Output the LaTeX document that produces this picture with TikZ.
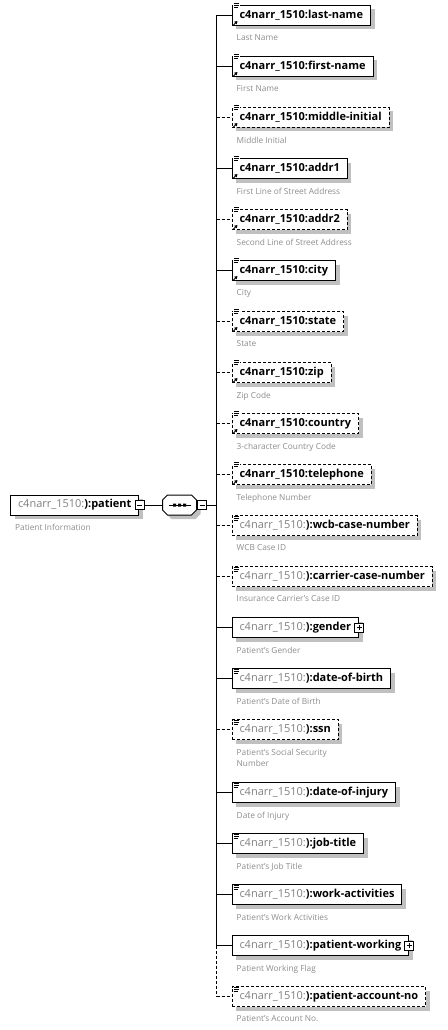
\documentclass[tikz,border=0pt]{standalone}
\usepackage{fontspec}
\setmainfont{Open Sans}
\usetikzlibrary{calc,shadows,arrows.meta}
\definecolor{prefixgray}{RGB}{128,128,128}
\definecolor{descgray}{RGB}{140,140,140}
\definecolor{shadowgray}{RGB}{192,192,192}
\tikzset{
  req/.style={draw, line width=1pt, fill=white, anchor=west,
    minimum height=20pt, inner xsep=7.5pt, inner ysep=0pt,
    font=\fontsize{11}{13}\selectfont\bfseries,
    general shadow={fill=shadowgray, shadow xshift=4pt, shadow yshift=-4pt}},
  opt/.style={req, dash pattern=on 3pt off 2pt},
  req link/.style={line width=1pt},
  opt link/.style={line width=1pt, dash pattern=on 3pt off 2pt},
  desc/.style={anchor=north west, inner sep=0pt, align=left, text=descgray,
    font=\fontsize{8.3}{11.5}\selectfont},
  togglebox/.style={draw, fill=white, line width=0.8pt, minimum size=9pt, inner sep=0pt},
  minusbox/.style={togglebox, path picture={
    \draw[line width=0.8pt] ([xshift=2pt]path picture bounding box.west) -- ([xshift=-2pt]path picture bounding box.east);}},
  plusbox/.style={togglebox, path picture={
    \draw[line width=0.8pt] ([xshift=2pt]path picture bounding box.west) -- ([xshift=-2pt]path picture bounding box.east)
      ([yshift=2pt]path picture bounding box.south) -- ([yshift=-2pt]path picture bounding box.north);}}
}
\newcommand{\pfx}{{\mdseries\color{prefixgray}c4narr\_1510:}}
% #1 name, #2 y, #3 req/opt, #4 label, #5 description
\newcommand{\elm}[5]{%
  \node[#3] (#1) at (231.5,#2) {#4};
  \node[desc] (#1-d) at ($(#1.south west)+(5,8.5)$) {#5};
  \draw[#3 link] (spine |- #1.west) -- (#1.west);
}
% referenced element marks
\newcommand{\refmark}[1]{%
  \fill[white] ($(#1.north west)+(1.5,-3)$) rectangle ++(7,6);
  \draw[line width=0.8pt] ($(#1.north west)+(2.5,-2)$) -- ++(5,0) ++(-5,2) -- ++(5,0) ++(-5,2) -- ++(4,0);
  \draw[line width=1pt, -{Triangle[length=3pt,width=3.5pt]}] ($(#1.south west)+(1.5,-0.5)$) -- ++(4.5,-4.5);
}
\newcommand{\typemark}[1]{%
  \draw[line width=0.8pt] ($(#1.north west)+(2,1.5)$) -- ++(5,0) ++(-5,2) -- ++(5,0) ++(-5,2) -- ++(4,0);
}

\begin{document}
\begin{tikzpicture}[x=1pt, y=-1pt]
  \useasboundingbox (0,0) rectangle (447,1030);
  \coordinate (spine) at (216.5,0);

  % root element
  \node[req] (patient) at (10,505) {\pfx):patient\hspace{5pt}};
  \node[minusbox] (pmin) at (patient.east) {};
  \node[desc] (patient-d) at ($(patient.south west)+(5,8.5)$) {Patient Information};

  % sequence compositor
  \node[minimum width=34pt, minimum height=20pt, inner sep=0pt] (seq) at (179.5,505) {};
  \begin{scope}[shift={(seq.center)}]
    \fill[shadowgray, shift={(4,4)}] (-17,-5) -- (-12,-10) -- (12,-10) -- (17,-5) -- (17,5) -- (12,10) -- (-12,10) -- (-17,5) -- cycle;
    \draw[line width=1pt, fill=white] (-17,-5) -- (-12,-10) -- (12,-10) -- (17,-5) -- (17,5) -- (12,10) -- (-12,10) -- (-17,5) -- cycle;
    \draw[line width=1pt] (-11,0) -- (11,0);
    \fill (-6.5,-1.5) rectangle (-3.5,1.5) (-1.5,-1.5) rectangle (1.5,1.5) (3.5,-1.5) rectangle (6.5,1.5);
  \end{scope}
  \node[minusbox] (smin) at ($(seq.east)+(5.5,0)$) {};
  \draw[req link] (pmin) -- (seq);
  \draw[req link] (smin) -- (spine |- smin);

  % children
  \elm{last}{15.5}{req}{c4narr\_1510:last-name}{Last Name}
  \elm{first}{66.5}{req}{c4narr\_1510:first-name}{First Name}
  \elm{middle}{117.5}{opt}{c4narr\_1510:middle-initial}{Middle Initial}
  \elm{addr1}{168.5}{req}{c4narr\_1510:addr1}{First Line of Street Address}
  \elm{addr2}{219.5}{opt}{c4narr\_1510:addr2}{Second Line of Street Address}
  \elm{city}{270.5}{req}{c4narr\_1510:city}{City}
  \elm{state}{321.5}{opt}{c4narr\_1510:state}{State}
  \elm{zip}{372.5}{opt}{c4narr\_1510:zip}{Zip Code}
  \elm{country}{423.5}{opt}{c4narr\_1510:country}{3-character Country Code}
  \elm{phone}{474.5}{opt}{c4narr\_1510:telephone}{Telephone Number}
  \elm{wcb}{525.5}{opt}{\pfx):wcb-case-number}{WCB Case ID}
  \elm{carrier}{576.5}{opt}{\pfx):carrier-case-number}{Insurance Carrier's Case ID}
  \elm{gender}{627.5}{req}{\pfx):gender\hspace{4pt}}{Patient's Gender}
  \elm{dob}{678.5}{req}{\pfx):date-of-birth}{Patient's Date of Birth}
  \elm{ssn}{729.5}{opt}{\pfx):ssn}{Patient's Social Security\\Number}
  \elm{doi}{792.5}{req}{\pfx):date-of-injury}{Date of Injury}
  \elm{job}{843.5}{req}{\pfx):job-title}{Patient's Job Title}
  \elm{work}{894.5}{req}{\pfx):work-activities}{Patient's Work Activities}
  \elm{working}{945.5}{req}{\pfx):patient-working\hspace{4pt}}{Patient Working Flag}
  \elm{account}{996.5}{opt}{\pfx):patient-account-no}{Patient's Account No.}

  % marks
  \refmark{last} \refmark{first} \refmark{middle} \refmark{addr1} \refmark{addr2}
  \refmark{city} \refmark{state} \refmark{zip} \refmark{country} \refmark{phone}
  \typemark{wcb} \typemark{carrier} \typemark{dob} \typemark{ssn} \typemark{doi}
  \typemark{job} \typemark{work} \typemark{account}
  \node[plusbox] (gplus) at (gender.east) {};
  \node[plusbox] (wplus) at (working.east) {};

  % spine
  \draw[req link] (spine |- last.west) -- (spine |- working.west);
  \draw[opt link] (spine |- working.west) -- (spine |- account.west);
\end{tikzpicture}
\end{document}
